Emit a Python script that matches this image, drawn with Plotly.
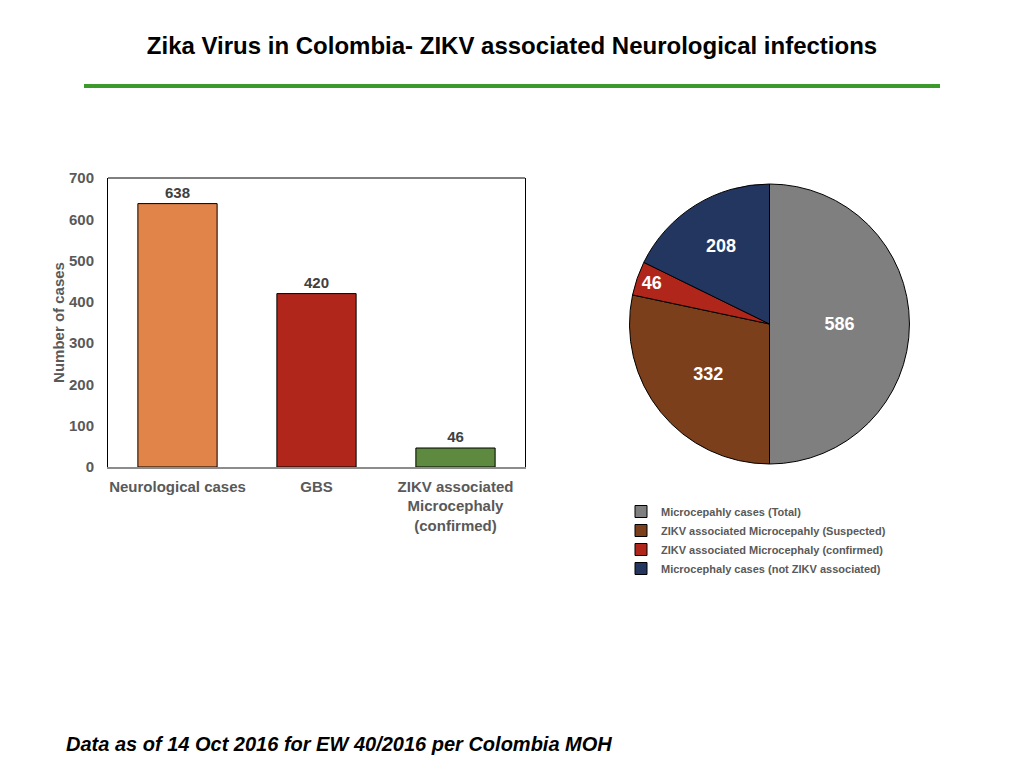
import plotly.graph_objects as go

bar_categories = ["Neurological cases", "GBS", "ZIKV associated<br>Microcephaly<br>(confirmed)"]
bar_values = [638, 420, 46]
bar_colors = ["#E0844A", "#B0261B", "#5E8A3F"]

pie_labels = ["Microcepahly cases (Total)",
              "ZIKV associated Microcepahly (Suspected)",
              "ZIKV associated Microcephaly (confirmed)",
              "Microcephaly cases (not ZIKV associated)"]
pie_values = [586, 332, 46, 208]
pie_colors = ["#7F7F7F", "#7B3F1B", "#B0261B", "#233660"]

y_ticks = [0, 100, 200, 300, 400, 500, 600, 700]

FONT = "Liberation Sans, Arial, sans-serif"
OFF = 8  # page body margin
W, H = 1024 - 2 * OFF, 768 - 2 * OFF


def px(x):
    return (x - OFF) / W


def py(y):
    return 1 - (y - OFF) / H


fig = go.Figure()

fig.add_trace(go.Bar(
    x=bar_categories, y=bar_values,
    marker=dict(color=bar_colors, line=dict(color="black", width=1)),
    width=0.57,
    text=[str(v) for v in bar_values], textposition="outside",
    textfont=dict(family=FONT, size=15, color="#404040", weight="bold"),
    cliponaxis=False,
    showlegend=False,
    xaxis="x", yaxis="y",
))

fig.add_trace(go.Pie(
    labels=pie_labels, values=pie_values,
    marker=dict(colors=pie_colors, line=dict(color="black", width=1)),
    sort=False, direction="clockwise", rotation=0,
    textinfo="value", textposition="inside",
    insidetextorientation="horizontal",
    textfont=dict(family=FONT, size=18, color="white", weight="bold"),
    domain=dict(x=[px(629), px(910)], y=[py(464), py(184)]),
    showlegend=True,
))

fig.update_layout(
    template="none",
    width=W, height=H,
    margin=dict(l=0, r=0, t=0, b=0, pad=0, autoexpand=False),
    paper_bgcolor="white", plot_bgcolor="white",
    font=dict(family=FONT, color="#595959"),
    xaxis=dict(
        domain=[px(108), px(525)], automargin=False,
        showline=True, linecolor="#8C8C8C", linewidth=1.5, mirror=False,
        showgrid=False, ticks="", ticklabelstandoff=5, zeroline=False,
        tickfont=dict(family=FONT, size=15, color="#595959", weight="bold"),
        fixedrange=True,
    ),
    yaxis=dict(
        domain=[py(467), py(178)], automargin=False,
        range=[0, 700], tickvals=y_ticks,
        showline=True, linecolor="black", linewidth=1, mirror=True,
        showgrid=False, ticks="", zeroline=False, ticklabelstandoff=10,
        tickfont=dict(family=FONT, size=15, color="#595959", weight="bold"),
        title=dict(text="Number of cases", standoff=0,
                   font=dict(family=FONT, size=15, color="#595959", weight="bold")),
        fixedrange=True,
    ),
    legend=dict(
        x=px(621), y=py(497), xanchor="left", yanchor="top",
        font=dict(family=FONT, size=11, color="#595959", weight="bold"),
        itemwidth=30,
        bgcolor="rgba(0,0,0,0)", borderwidth=0,
    ),
    showlegend=True,
    title=dict(
        text="Zika Virus in Colombia- ZIKV associated Neurological infections",
        x=0.5, xanchor="center", y=py(46), yanchor="middle",
        font=dict(family=FONT, size=24, color="black", weight="bold"),
    ),
)

# top border of the bar plot frame
fig.add_shape(type="line", xref="x domain", yref="y domain",
              x0=0, x1=1, y0=1, y1=1, line=dict(color="black", width=1))

fig.add_shape(type="line", xref="paper", yref="paper",
              x0=px(84), x1=px(940), y0=py(86), y1=py(86),
              line=dict(color="#3C9A2C", width=4))

fig.add_annotation(
    text="<i>Data as of 14 Oct 2016 for EW 40/2016 per Colombia MOH</i>",
    xref="paper", yref="paper", x=px(64), y=py(744),
    xanchor="left", yanchor="middle", showarrow=False,
    font=dict(family=FONT, size=20, color="black", weight="bold"),
)

fig.write_html("out.html")
